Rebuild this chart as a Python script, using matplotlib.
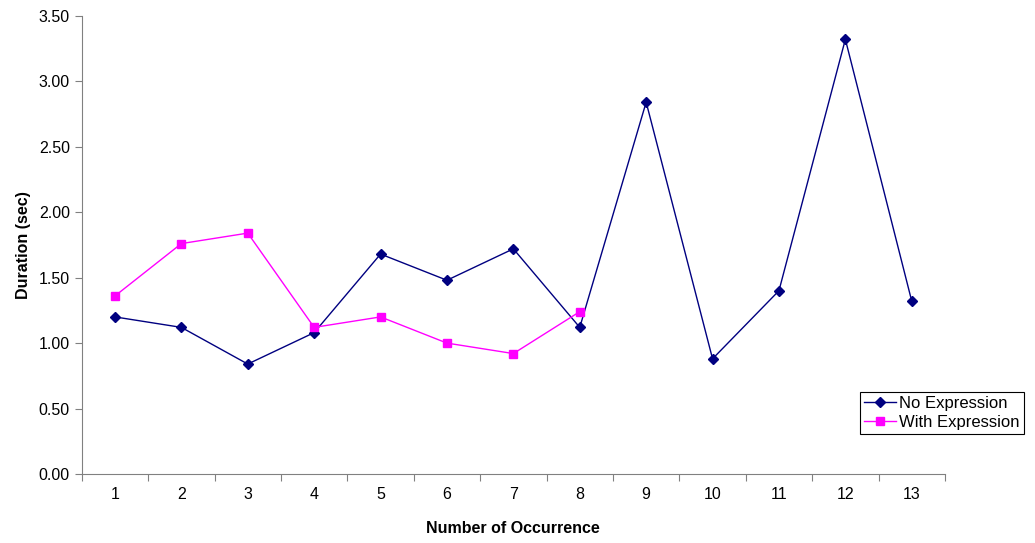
import numpy as np
import matplotlib.pyplot as plt
from matplotlib.ticker import FixedLocator, NullFormatter, FormatStrFormatter

plt.rcParams['font.family'] = ['Liberation Sans', 'DejaVu Sans']

# Data
occurrence = list(range(1, 14))
no_expression = [1.20, 1.12, 0.84, 1.08, 1.68, 1.48, 1.72, 1.12, 2.84, 0.88, 1.40, 3.32, 1.32]
with_expression = [1.36, 1.76, 1.84, 1.12, 1.20, 1.00, 0.92, 1.24]

fig = plt.figure(figsize=(10.35, 5.43), dpi=100)
ax = fig.add_axes([0.079, 0.127, 0.834, 0.844])

ax.plot(occurrence, no_expression, color='#000080', marker='D', markersize=5,
        linewidth=1, label='No Expression')
ax.plot(occurrence[:len(with_expression)], with_expression, color='#FF00FF', marker='s',
        markersize=6, linewidth=1, label='With Expression')

# y axis
ax.set_ylim(0, 3.5)
ax.set_yticks(np.arange(0, 3.51, 0.5))
ax.yaxis.set_major_formatter(FormatStrFormatter('%.2f'))
ax.set_ylabel('Duration (sec)', fontsize=11.5, fontweight='bold', labelpad=6)

# x axis: category style, ticks between categories
ax.set_xlim(0.5, 13.5)
ax.xaxis.set_major_locator(FixedLocator(np.arange(0.5, 13.6, 1)))
ax.xaxis.set_major_formatter(NullFormatter())
ax.xaxis.set_minor_locator(FixedLocator(occurrence))
ax.set_xticklabels([str(o) for o in occurrence], minor=True)
ax.tick_params(axis='x', which='minor', length=0, pad=9)
ax.set_xlabel('Number of Occurrence', fontsize=11.5, fontweight='bold', labelpad=14)

ax.tick_params(axis='both', which='major', direction='out', length=5,
               color='#808080', labelsize=11.5)
ax.tick_params(axis='x', which='minor', labelsize=11.5)

for side in ['top', 'right']:
    ax.spines[side].set_visible(False)
for side in ['left', 'bottom']:
    ax.spines[side].set_color('#808080')

leg = fig.legend(loc='upper left', bbox_to_anchor=(0.831, 0.278), fontsize=12,
                 frameon=True, fancybox=False, edgecolor='black', framealpha=1,
                 borderpad=0.25, handlelength=1.9, handletextpad=0.2,
                 labelspacing=0.2, borderaxespad=0)
leg.get_frame().set_linewidth(0.8)

fig.savefig('out.png', dpi=100)
